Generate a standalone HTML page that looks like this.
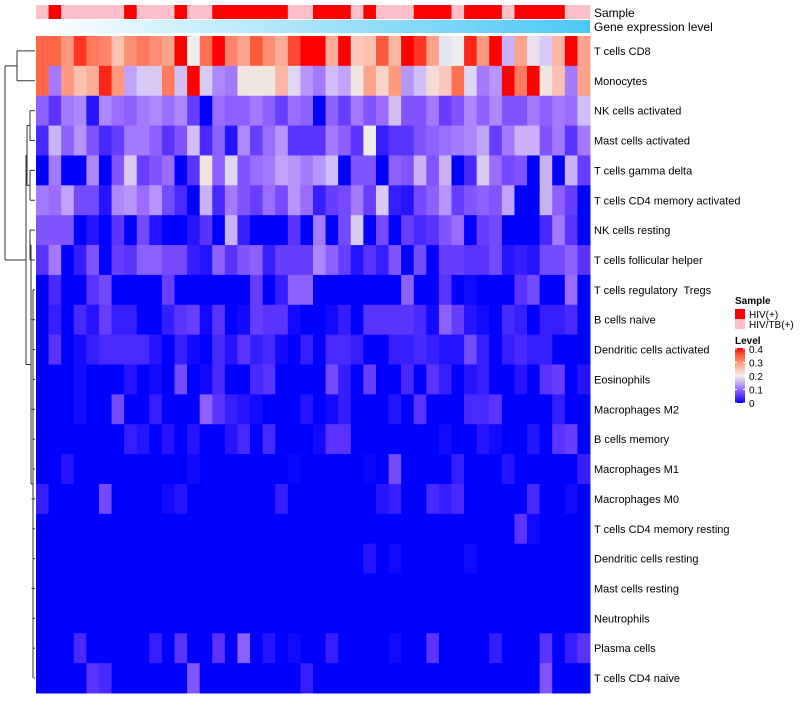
<!DOCTYPE html>
<html><head><meta charset="utf-8"><style>
body{margin:0;background:#fff;width:800px;height:700px;overflow:hidden;font-family:"Liberation Sans",sans-serif}
text{white-space:pre}
</style></head><body>
<svg id="chart" width="800" height="700" xmlns="http://www.w3.org/2000/svg" font-family="Liberation Sans, sans-serif"></svg>
<script>
const rowNames=["T cells CD8","Monocytes","NK cells activated","Mast cells activated","T cells gamma delta","T cells CD4 memory activated","NK cells resting","T cells follicular helper","T cells regulatory  Tregs","B cells naive","Dendritic cells activated","Eosinophils","Macrophages M2","B cells memory","Macrophages M1","Macrophages M0","T cells CD4 memory resting","Dendritic cells resting","Mast cells resting","Neutrophils","Plasma cells","T cells CD4 naive"];
const sampleGroups=[0,1,0,0,0,0,0,1,0,0,0,1,0,0,1,1,1,1,1,1,0,0,1,1,1,0,1,0,0,0,1,1,1,0,1,1,1,0,1,1,1,1,0,0];
const sampleLabels=["HIV/TB(+)","HIV(+)"];
const legendTicks=[0,0.1,0.2,0.3,0.4];
const r0=[0.34,0.34,0.29,0.37,0.32,0.31,0.25,0.3,0.32,0.3,0.28,0.4,0.2,0.33,0.4,0.31,0.28,0.35,0.3,0.27,0.36,0.4,0.4,0.27,0.4,0.24,0.25,0.35,0.26,0.4,0.37,0.28,0.19,0.2,0.38,0.29,0.4,0.15,0.28,0.19,0.17,0.26,0.4,0.28];
const r1=[0.34,0.11,0.29,0.25,0.27,0.38,0.29,0.14,0.17,0.17,0.32,0.16,0.4,0.17,0.12,0.11,0.21,0.21,0.21,0.26,0.18,0.13,0.11,0.16,0.14,0.21,0.28,0.23,0.29,0.13,0.16,0.22,0.24,0.33,0.18,0.11,0.13,0.4,0.32,0.4,0.21,0.25,0.11,0.28];
const r2=[0.09,0.05,0.11,0.12,0.02,0.12,0.1,0.09,0.11,0.12,0.1,0.12,0.06,0,0.1,0.09,0.09,0.11,0.09,0.06,0.1,0.09,0,0.09,0.06,0.11,0.08,0.1,0.16,0.08,0.08,0.11,0.06,0.08,0.12,0.09,0.12,0.08,0.08,0.11,0.09,0.11,0.1,0.16];
const r3=[0.04,0.15,0.09,0.13,0.08,0.04,0.06,0.11,0.11,0.09,0.05,0.08,0.16,0.04,0.09,0.02,0.12,0.06,0.1,0.13,0.05,0.05,0.05,0.11,0.09,0.05,0.2,0.03,0.05,0.05,0.08,0.09,0.1,0.11,0.12,0.14,0.06,0.11,0.15,0.15,0.08,0.11,0.05,0.11];
const r4=[0,0.11,0,0,0.12,0,0.08,0.17,0.06,0.08,0.1,0,0.05,0.21,0.09,0.18,0.08,0.1,0.11,0.14,0.13,0.11,0.13,0.16,0,0.08,0.08,0,0.09,0.08,0.15,0.08,0.15,0,0.04,0.17,0.1,0.07,0.08,0,0.15,0,0.15,0.06];
const r5=[0.11,0.1,0.14,0.07,0.07,0.02,0.12,0.13,0.1,0.13,0.07,0.04,0,0.15,0.04,0.11,0.08,0.06,0.1,0.07,0.13,0.1,0.03,0.06,0.07,0.11,0.06,0.17,0.03,0.02,0.07,0.09,0.13,0.06,0.08,0.09,0.08,0.14,0,0,0.15,0.09,0.06,0];
const r6=[0.08,0.08,0.08,0,0.02,0,0.05,0,0.07,0.02,0,0,0.02,0.05,0,0.15,0.03,0,0,0,0.05,0,0.11,0,0.07,0.17,0,0.07,0,0.06,0.04,0.05,0.08,0.1,0,0.06,0.07,0,0,0,0.04,0.11,0.05,0];
const r7=[0.05,0.11,0,0.03,0.08,0,0.06,0.05,0.09,0.09,0.07,0.07,0.03,0.02,0.09,0.05,0.08,0.09,0.03,0.06,0.06,0.06,0.12,0.09,0.06,0.02,0.05,0.03,0.08,0,0.07,0,0.06,0.06,0.05,0.05,0.07,0.02,0.03,0.02,0.07,0.07,0.09,0.05];
const r8=[0,0.04,0,0,0.05,0.07,0,0,0,0,0.06,0,0,0,0,0,0,0.06,0,0.03,0.09,0.09,0,0,0,0,0,0,0,0.09,0,0,0.05,0,0.01,0,0,0,0.05,0.07,0,0,0.1,0];
const r9=[0,0.03,0,0.04,0.02,0.06,0.03,0.03,0,0,0.03,0.05,0.06,0.01,0.05,0,0.01,0.06,0.05,0.05,0.01,0,0,0.01,0.03,0,0.05,0.05,0.05,0.05,0.04,0.01,0.09,0.06,0.02,0.01,0,0.04,0.03,0,0.03,0.03,0.04,0];
const r10=[0,0.05,0,0.01,0.03,0.04,0.04,0.04,0.04,0.02,0,0.03,0.01,0,0.04,0.02,0.05,0.03,0.04,0.01,0,0.03,0,0.04,0.04,0.03,0,0,0.03,0.03,0.04,0.03,0.02,0.02,0.07,0.03,0,0.03,0.04,0.03,0.03,0,0,0];
const r11=[0,0,0,0.01,0,0,0,0.02,0,0.01,0,0.07,0,0.01,0.04,0,0,0.04,0.05,0,0,0,0,0.07,0.03,0,0.06,0,0,0.04,0,0.05,0.03,0,0.02,0.03,0,0,0.02,0,0.05,0.06,0,0.02];
const r12=[0,0,0,0.01,0,0,0.07,0,0,0.03,0,0,0,0.09,0.05,0.03,0.02,0.01,0,0,0,0.02,0,0.01,0.03,0,0,0,0.02,0,0.05,0,0,0,0.04,0.04,0.05,0,0,0,0,0.03,0,0];
const r13=[0,0,0,0,0,0,0,0.03,0.02,0,0.02,0,0.02,0,0,0.02,0.04,0,0.04,0,0,0,0.01,0.05,0.05,0,0,0,0,0,0,0,0.01,0,0,0.02,0.01,0,0,0.02,0,0.05,0.06,0];
const r14=[0,0,0.02,0,0,0,0,0,0,0,0,0,0.01,0,0,0,0,0,0,0,0.005,0,0,0,0,0,0.005,0,0.07,0,0,0,0,0.03,0,0,0,0.02,0,0,0,0,0,0.03];
const r15=[0.03,0,0,0,0,0.07,0,0,0,0,0.01,0.02,0,0,0,0,0,0,0,0.03,0,0,0,0,0,0,0,0.02,0.03,0,0,0.04,0.03,0.04,0,0,0,0,0,0.04,0,0,0.01,0];
const r16=[0,0,0,0,0,0,0,0,0,0,0,0,0,0,0,0,0,0,0,0,0,0,0,0,0,0,0,0,0,0,0,0,0,0,0,0,0,0,0.05,0.01,0,0,0,0];
const r17=[0,0,0,0,0,0,0,0,0,0,0,0,0,0,0,0,0,0,0,0,0,0,0,0,0,0,0.02,0,0.01,0,0,0,0,0,0.01,0,0,0,0,0,0,0,0,0];
const r18=[0,0,0,0,0,0,0,0,0,0,0,0,0,0,0,0,0,0,0,0,0,0,0,0,0,0,0,0,0,0,0,0,0,0,0,0,0,0,0,0,0,0,0,0];
const r19=[0,0,0,0,0,0,0,0,0,0,0,0,0,0,0,0,0,0,0,0,0,0,0,0,0,0,0,0,0,0,0,0,0,0,0,0,0,0,0,0,0,0,0,0];
const r20=[0,0,0,0.04,0,0,0,0,0,0.03,0,0.05,0,0,0.05,0,0.09,0,0.02,0,0.01,0,0,0.03,0,0,0,0,0.01,0,0,0.05,0,0,0,0,0.03,0,0,0,0.05,0,0.03,0.05];
const r21=[0,0,0,0,0.05,0.04,0,0,0,0,0,0,0.08,0,0,0,0,0,0,0,0,0.03,0,0,0,0,0,0,0,0,0,0,0,0,0,0,0,0,0,0,0.08,0,0,0];
const rows=[r0,r1,r2,r3,r4,r5,r6,r7,r8,r9,r10,r11,r12,r13,r14,r15,r16,r17,r18,r19,r20,r21];

const NS="http://www.w3.org/2000/svg";
const svg=document.getElementById('chart');
const X0=36,X1=590,Y0=36,Y1=693;
const nC=r0.length,nR=rows.length;
const cw=(X1-X0)/nC,rh=(Y1-Y0)/nR;
const xPos=i=>X0+i*cw, yPos=j=>Y0+j*rh;
const stops=[[0,[0,0,255]],[0.05,[90,51,255]],[0.1,[154,108,255]],[0.15,[201,178,247]],[0.2,[238,238,238]],[0.25,[251,192,176]],[0.3,[255,143,116]],[0.35,[255,90,60]],[0.4,[255,0,0]]];
function col(v){v=Math.max(0,Math.min(0.4,v));for(let k=1;k<stops.length;k++){if(v<=stops[k][0]){const a=stops[k-1],b=stops[k],t=(v-a[0])/(b[0]-a[0]);const c=a[1].map((x,i)=>Math.round(x+(b[1][i]-x)*t));return `rgb(${c})`;}}return 'rgb(255,0,0)';}
function mk(tag,at,parent){const e=document.createElementNS(NS,tag);for(const k in at)e.setAttribute(k,at[k]);(parent||svg).appendChild(e);return e;}

for(let i=0;i<nC;i++){
  const r=mk('rect',{x:xPos(i),y:5,width:cw+0.5,height:14,fill:sampleGroups[i]?'#ff0000':'#ffc0cb'});
  
  
}
const defs=mk('defs',{});
const lg=mk('linearGradient',{id:'ge',x1:0,x2:1,y1:0,y2:0},defs);
mk('stop',{offset:0,'stop-color':'#ffffff'},lg);mk('stop',{offset:1,'stop-color':'#4cc8f4'},lg);
const ge=mk('rect',{x:X0,y:20,width:X1-X0,height:13,fill:'url(#ge)'});


let t=mk('text',{x:594,y:17,'font-size':12,fill:'#000'});t.textContent='Sample';


t=mk('text',{x:594,y:31,'font-size':12,fill:'#000'});t.textContent='Gene expression level';



for(let j=0;j<nR;j++){for(let i=0;i<nC;i++){
  const c=mk('rect',{x:xPos(i),y:yPos(j),width:cw+0.5,height:rh+0.5,fill:col(rows[j][i])});
  
  
}
  const l=mk('text',{x:594,y:yPos(j)+rh/2+4,'font-size':11,fill:'#000','xml:space':'preserve'});l.textContent=rowNames[j];
  
  
}

const cy=j=>yPos(j)+rh/2;
const g=mk('g',{stroke:'#333','stroke-width':1,fill:'none'});


function seg(x1,y1,x2,y2){mk('line',{x1,y1,x2,y2},g);}
seg(17,cy(0),35,cy(0));seg(17,cy(1),35,cy(1));seg(17,cy(0),17,cy(1));
const topMid=(cy(0)+cy(1))/2;
const pairs=[[2,3,30],[4,5,30],[6,7,30]];
pairs.forEach(p=>{seg(p[2],cy(p[0]),35,cy(p[0]));seg(p[2],cy(p[1]),35,cy(p[1]));seg(p[2],cy(p[0]),p[2],cy(p[1]));});
const m23=(cy(2)+cy(3))/2,m45=(cy(4)+cy(5))/2,m67=(cy(6)+cy(7))/2;
seg(27,m23,30,m23);seg(27,m45,30,m45);seg(27,m23,27,m45);
const m25=(m23+m45)/2;
seg(26,m25,27,m25);
for(let j=20;j>=8;j--){const x=33-((20-j)%3)*0.7;seg(x,cy(j),35,cy(j));}
seg(33,cy(8),33,cy(21));seg(34,cy(21),35,cy(21));
const mLow=(cy(8)+cy(21))/2;
seg(31,m67,31,mLow);seg(31,m67,30,m67);seg(31,mLow,33,mLow);
const mB=(m67+mLow)/2;
seg(29,mB,31,mB);
seg(26,m25,26,mB);seg(26,mB,29,mB);
const mAll=(m25+mB)/2;
seg(5,topMid,17,topMid);seg(5,mAll,26,mAll);seg(5,topMid,5,mAll);

t=mk('text',{x:735,y:304,'font-size':10,'font-weight':'bold',fill:'#000'});t.textContent='Sample';


[['#ff0000',sampleLabels[1]],['#ffc0cb',sampleLabels[0]]].forEach((d,k)=>{
  const r=mk('rect',{x:735,y:309+k*10,width:10,height:10,fill:d[0]});
  
  
  const tx=mk('text',{x:749,y:318+k*10,'font-size':10,fill:'#000'});tx.textContent=d[1];
  
  
});
t=mk('text',{x:735,y:344,'font-size':10,'font-weight':'bold',fill:'#000'});t.textContent='Level';


const lg2=mk('linearGradient',{id:'lv',x1:0,x2:0,y1:1,y2:0},defs);
for(let k=0;k<stops.length;k++)mk('stop',{offset:stops[k][0]/0.4,'stop-color':col(stops[k][0])},lg2);
const bar=mk('rect',{x:735,y:348,width:10,height:55,fill:'url(#lv)'});


legendTicks.forEach(v=>{
  const y=403-(v/0.4)*54;
  mk('line',{x1:735,x2:737,y1:y,y2:y,stroke:'#fff','stroke-width':1});
  mk('line',{x1:743,x2:745,y1:y,y2:y,stroke:'#fff','stroke-width':1});
  const tx=mk('text',{x:749,y:y+4,'font-size':10,fill:'#000'});tx.textContent=String(v);
  
  
});
</script>
</body></html>
